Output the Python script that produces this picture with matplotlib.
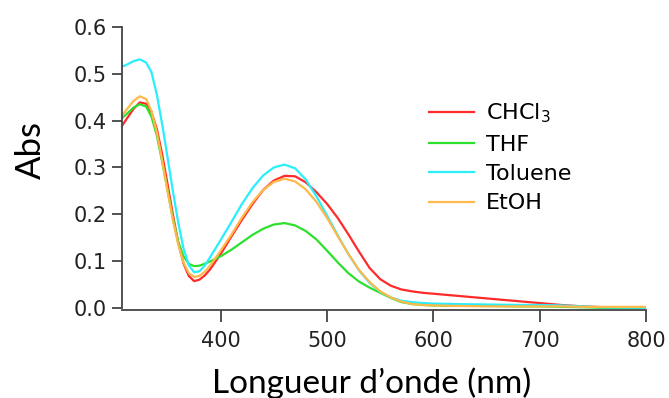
"""
UV-vis absorption spectra in four solvents
"""
import matplotlib
matplotlib.use('Agg')
import matplotlib.pyplot as plt

# wavelength grid (nm)
wavelength = [307, 312, 318, 324, 330, 335, 340, 345, 350, 355,
              360, 365, 370, 375, 380, 385, 390, 400, 410, 420,
              430, 440, 450, 460, 470, 480, 490, 500, 510, 520,
              530, 540, 550, 560, 570, 580, 590, 600, 620, 650,
              680, 700, 720, 740, 760, 800]

abs_chcl3 = [0.388, 0.405, 0.425, 0.439, 0.436, 0.418, 0.382, 0.328, 0.265, 0.200,
             0.140, 0.095, 0.068, 0.057, 0.060, 0.069, 0.082, 0.115, 0.152, 0.188,
             0.222, 0.252, 0.272, 0.282, 0.281, 0.268, 0.247, 0.222, 0.192, 0.157,
             0.120, 0.085, 0.061, 0.047, 0.039, 0.035, 0.032, 0.030, 0.026, 0.020,
             0.014, 0.010, 0.006, 0.003, 0.001, 0.000]

abs_thf = [0.405, 0.415, 0.428, 0.435, 0.430, 0.408, 0.368, 0.312, 0.252, 0.192,
           0.142, 0.110, 0.094, 0.089, 0.090, 0.094, 0.099, 0.110, 0.124, 0.140,
           0.156, 0.169, 0.178, 0.181, 0.176, 0.164, 0.146, 0.122, 0.097, 0.074,
           0.056, 0.043, 0.032, 0.021, 0.012, 0.008, 0.006, 0.005, 0.004, 0.004,
           0.003, 0.003, 0.002, 0.001, 0.000, 0.000]

abs_toluene = [0.515, 0.520, 0.527, 0.531, 0.524, 0.503, 0.455, 0.392, 0.322, 0.250,
               0.183, 0.127, 0.091, 0.076, 0.078, 0.090, 0.108, 0.145, 0.183, 0.222,
               0.256, 0.283, 0.300, 0.306, 0.298, 0.274, 0.238, 0.197, 0.155, 0.115,
               0.080, 0.053, 0.034, 0.022, 0.015, 0.012, 0.010, 0.009, 0.008, 0.007,
               0.006, 0.006, 0.005, 0.003, 0.001, 0.000]

abs_etoh = [0.410, 0.425, 0.442, 0.452, 0.446, 0.420, 0.375, 0.315, 0.250, 0.188,
            0.136, 0.097, 0.074, 0.066, 0.068, 0.077, 0.090, 0.122, 0.156, 0.193,
            0.226, 0.252, 0.269, 0.276, 0.270, 0.253, 0.226, 0.192, 0.153, 0.115,
            0.081, 0.055, 0.035, 0.022, 0.013, 0.008, 0.006, 0.005, 0.004, 0.003,
            0.003, 0.003, 0.003, 0.002, 0.002, 0.002]

labels = ['CHCl$_3$', 'THF', 'Toluene', 'EtOH']
colors = ['#ff2a2a', '#2ee02e', '#2aeefc', '#ffb84a']

fig = plt.figure(figsize=(6.69, 3.98), dpi=100)
ax = fig.add_axes([0.182, 0.222, 0.784, 0.710])

series = [abs_chcl3, abs_thf, abs_toluene, abs_etoh]
for values, label, color in zip(series, labels, colors):
    ax.plot(wavelength, values, color=color, lw=1.6, label=label,
            solid_joinstyle='round')

ax.set_xlim(307, 800)
ax.set_ylim(-0.004, 0.6)
ax.set_xticks([400, 500, 600, 700, 800])
ax.set_yticks([0.0, 0.1, 0.2, 0.3, 0.4, 0.5, 0.6])
ax.set_yticklabels(['0.0', '0.1', '0.2', '0.3', '0.4', '0.5', '0.6'])

for side in ['top', 'right']:
    ax.spines[side].set_visible(False)
for side in ['left', 'bottom']:
    ax.spines[side].set_color('#444444')
    ax.spines[side].set_linewidth(1.3)
ax.spines['left'].set_bounds(0, 0.6)

ax.tick_params(direction='out', width=1.3, color='#444444',
               labelsize=15, labelcolor='#222222')
ax.tick_params(axis='x', length=8.5, pad=7)
ax.tick_params(axis='y', length=7.5, pad=3.5)
for lab in ax.get_xticklabels() + ax.get_yticklabels():
    lab.set_family('DejaVu Sans')

ax.set_ylabel('Abs', fontsize=25, family='Lato')
ax.yaxis.set_label_coords(-0.143, 0.565)
ax.set_xlabel('Longueur d\u2019onde (nm)', fontsize=24, family='Lato')
ax.xaxis.set_label_coords(0.477, -0.205)

leg = ax.legend(loc='upper left', bbox_to_anchor=(0.548, 0.806), frameon=False,
                prop={'family': 'DejaVu Sans', 'size': 16},
                handlelength=2.0, handletextpad=0.55, labelspacing=0.42)

plt.savefig('out.png', dpi=100)
